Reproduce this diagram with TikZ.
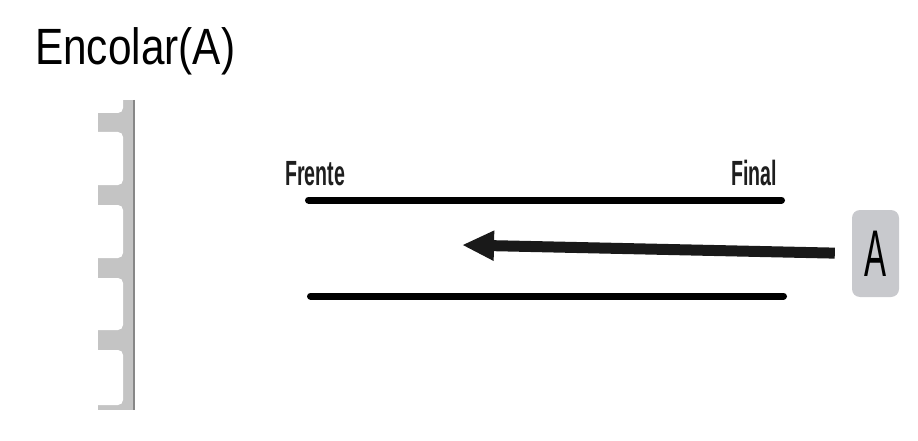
\documentclass[tikz,border=0pt]{standalone}
\usepackage{fontspec}
\setmainfont{Liberation Sans}
\usepackage{graphicx}
\usetikzlibrary{arrows.meta}
\definecolor{combgray}{RGB}{196,196,196}
\definecolor{combedge}{RGB}{135,135,135}
\definecolor{boxgray}{RGB}{200,201,205}
\definecolor{inkgray}{RGB}{30,30,30}
\tikzset{
  rail/.style={line width=7pt, line cap=round, black},
  narrow/.style={inner sep=0pt, text=inkgray, font=\fontsize{35}{35}\selectfont\bfseries},
  itembox/.style={fill=boxgray, rounded corners=8pt, minimum width=47pt,
    minimum height=87pt, inner sep=0pt, font=\fontsize{66}{66}\selectfont},
  sketch/.style={line width=11pt, black!90, -{Triangle[length=32pt,width=28pt]}}
}
\begin{document}
\begin{tikzpicture}[x=1pt,y=-1pt]
      \useasboundingbox (0,0) rectangle (918,441);
      % title
      \node[anchor=base west, inner sep=0pt, font=\fontsize{51}{51}\selectfont]
        (title) at (35,65) {\scalebox{0.83}[1]{Encolar(A)}};
      % the queue (comb on the left)
      \fill[combgray] (98,100) rectangle (133,410);
      \foreach \a/\b in {90/113,132/185,205/258,278/330,350/405}
        \fill[white, rounded corners=5pt] (90,\a) rectangle (123,\b);
      \draw[combedge, line width=2pt] (134,100) -- (134,410);
      % rails
      \coordinate (t1) at (308.5,200);
      \coordinate (t2) at (781.5,200);
      \coordinate (b1) at (310.5,296);
      \coordinate (b2) at (783.5,296);
      \draw
        (285,185) node[narrow, anchor=base west] (frente){\scalebox{0.56}[1]{Frente}}
        (777,185) node[narrow, anchor=base east] (final){\scalebox{0.56}[1]{Final}}
        (875.5,253.5) node[itembox] (itemA){\scalebox{0.5}[1]{A}};
      \coordinate (head) at (462,245);
      \begin{scope}
        \draw[rail] (t1) -- (t2);
        \draw[rail] (b1) -- (b2);
        \draw[sketch, shorten <=17pt] (itemA.west) -- (head);
      \end{scope}
    \end{tikzpicture}
\end{document}
